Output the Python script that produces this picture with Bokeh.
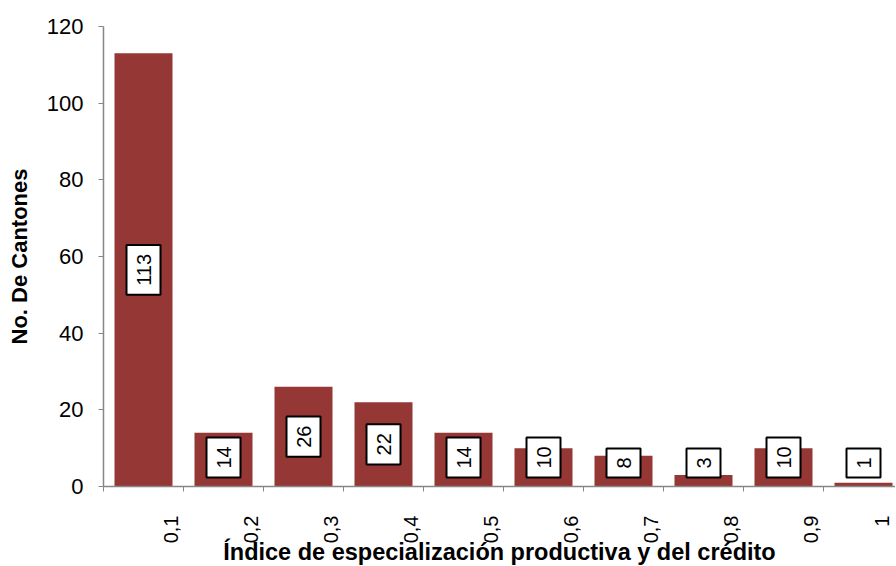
import math
from bokeh.plotting import figure
from bokeh.models import Range1d, FixedTicker, ColumnDataSource
from bokeh.core.properties import value
from bokeh.embed import file_html
from bokeh.resources import INLINE

# ---- data ----
categories = ["0,1", "0,2", "0,3", "0,4", "0,5", "0,6", "0,7", "0,8", "0,9", "1"]
counts = [113, 14, 26, 22, 14, 10, 8, 3, 10, 1]
y_ticks = [0, 20, 40, 60, 80, 100, 120]
x_title = "Índice de especialización productiva y del crédito"
y_title = "No. De Cantones"

# ---- style ----
FONT = "Liberation Sans"
BAR = "#953735"
AXIS = "#868686"
CAT_PX = 80
FRAME_W = 792
FRAME_H = 460
Y_MAX = 120
PPU = FRAME_H / Y_MAX
X_END = FRAME_W / CAT_PX
LABEL_OFFSET = 0.84
EDGE_KEEP = 14 / CAT_PX
CHAR_PX = 11
PAD_ALONG = 9
PAD_ACROSS = 10
MIN_GAP = 9

n = len(categories)
xs = [i + 0.5 for i in range(n)]
label_pos = [min(i + LABEL_OFFSET, X_END - EDGE_KEEP) for i in range(n)]
bounds = list(range(n + 1))

# data-label centres: middle of bar, kept a little above the axis
label_y = []
for c in counts:
    t = str(c)
    centre_px = max(c / 2 * PPU, MIN_GAP + PAD_ALONG + len(t) * CHAR_PX / 2)
    label_y.append(centre_px / PPU)

src = ColumnDataSource(dict(x=xs, top=counts, ly=label_y, txt=[str(c) for c in counts]))

p = figure(frame_width=FRAME_W, frame_height=FRAME_H,
           x_range=Range1d(0, X_END), y_range=Range1d(0, Y_MAX),
           output_backend="svg", toolbar_location=None,
           min_border_left=103, min_border_right=0, min_border_top=26, min_border_bottom=78)
p.outline_line_color = None
p.xgrid.visible = False
p.ygrid.visible = False
p.background_fill_color = "white"
p.border_fill_color = "white"

p.vbar(x="x", top="top", width=0.725, source=src, fill_color=BAR, line_color=None)

p.text(x="x", y="ly", text="txt", source=src, angle=math.pi / 2,
       text_align="center", text_baseline="middle",
       text_font=value(FONT), text_font_size="20px", text_color="black",
       background_fill_color="white", border_line_color="black", border_line_width=2,
       padding=(PAD_ALONG, PAD_ACROSS))

# x axis
xa = p.xaxis[0]
xa.ticker = FixedTicker(ticks=label_pos, minor_ticks=bounds)
xa.major_label_overrides = {pos: cat for pos, cat in zip(label_pos, categories)}
xa.major_label_orientation = math.pi / 2
xa.major_tick_out = 0
xa.major_tick_in = 0
xa.minor_tick_out = 5
xa.minor_tick_in = 0
xa.minor_tick_line_color = AXIS
xa.axis_line_color = AXIS
xa.axis_line_width = 1.5
xa.major_label_standoff = 24
xa.major_label_text_font = FONT
xa.major_label_text_font_size = "20px"
xa.major_label_text_color = "black"
xa.axis_label = x_title
xa.axis_label_text_font = FONT
xa.axis_label_text_font_style = "bold"
xa.axis_label_text_font_size = "23.5px"
xa.axis_label_text_color = "black"
xa.axis_label_standoff = -7

# y axis
ya = p.yaxis[0]
ya.ticker = FixedTicker(ticks=y_ticks)
ya.minor_tick_line_color = None
ya.major_tick_out = 5
ya.major_tick_in = 0
ya.major_tick_line_color = AXIS
ya.axis_line_color = AXIS
ya.axis_line_width = 1.5
ya.major_label_standoff = 15
ya.major_label_text_font = FONT
ya.major_label_text_font_size = "22px"
ya.major_label_text_color = "black"
ya.axis_label = y_title
ya.axis_label_text_font = FONT
ya.axis_label_text_font_style = "bold"
ya.axis_label_text_font_size = "22px"
ya.axis_label_text_color = "black"
ya.axis_label_standoff = 12

open("out.html", "w").write(file_html(p, INLINE))
